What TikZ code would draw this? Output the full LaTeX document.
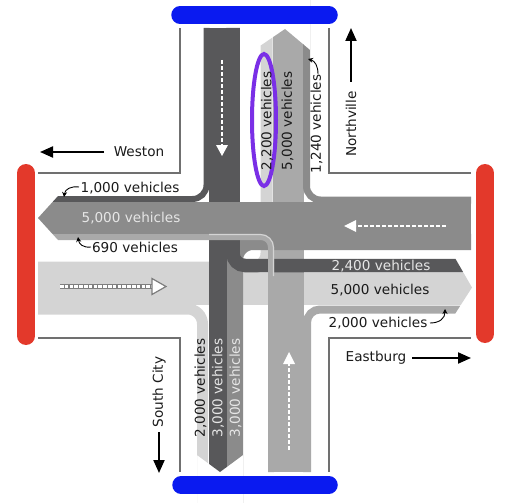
\documentclass[tikz,border=0pt]{standalone}
\usepackage{fontspec}
\setmainfont{DejaVu Sans}
\usetikzlibrary{arrows.meta}
\definecolor{cD}{HTML}{58585A}
\definecolor{cM}{HTML}{8B8B8B}
\definecolor{cML}{HTML}{A9A9A9}
\definecolor{cL}{HTML}{D4D4D4}
\definecolor{edgegray}{HTML}{707070}
\definecolor{redbar}{HTML}{E3392B}
\definecolor{bluebar}{HTML}{0A1AF0}
\definecolor{purp}{HTML}{7A2FE6}
\definecolor{lighttxt}{HTML}{E6E6E6}
\definecolor{txt}{HTML}{1A1A1A}
\begin{document}
\begin{tikzpicture}[x=1pt,y=-1pt,
  strip/.style={line cap=butt},
  lbl/.style={font=\fontsize{13.6}{14}\selectfont, inner sep=0pt, text=txt},
  lbllight/.style={lbl, text=lighttxt},
  roadedge/.style={draw=edgegray, line width=1.4},
  bigarrow/.style={line width=2, -{Triangle[length=13pt,width=11pt]}},
  smallarrow/.style={line width=0.9, -{Stealth[length=5pt,width=5pt]}},
  dashwhite/.style={white, line width=2.3, dash pattern=on 4pt off 2pt},
  bar/.style={line width=17.5, line cap=round}]
\useasboundingbox (0,0) rectangle (512,503);

% road edges
\draw[roadedge] (38,173) -- (180,173) -- (180,28);
\draw[roadedge] (329,28) -- (329,173) -- (471,173);
\draw[roadedge] (38,338) -- (180,338) -- (180,472);
\draw[roadedge] (329,472) -- (329,338) -- (471,338);

\begin{scope}
\clip (0,0) -- (260,0) -- (260,46) -- (285,29) -- (310,50) -- (310,0) -- (512,0)
  -- (512,255) -- (455,255) -- (455,258) -- (472,287.5) -- (455,314) -- (455,318) -- (512,318)
  -- (512,503) -- (243,503) -- (243,455) -- (220,472) -- (197,455) -- (197,503) -- (0,503)
  -- (0,245) -- (58,245) -- (58,240) -- (38,218) -- (58,196) -- (58,190) -- (0,190) -- cycle;
% eastbound (from Weston)
\draw[strip, cL, line width=32] (38,289) -- (520,289);
\draw[strip, cL, line width=11, rounded corners=15] (38,309) -- (202.5,309) -- (202.5,520);
\draw[strip, cL, line width=12, rounded corners=14] (38,267.5) -- (266.5,267.5) -- (266.5,0);
% northbound (from South City)
\draw[strip, cML, line width=31] (288,472) -- (288,0);
\draw[strip, cML, line width=8, rounded corners=13] (307,472) -- (307,309.5) -- (520,309.5);
% westbound turns (from Eastburg)
\draw[strip, cM, line width=16, rounded corners=18] (471,242) -- (235,242) -- (235,520);
\draw[strip, cM, line width=7, rounded corners=14] (471,200) -- (306.5,200) -- (306.5,0);
% southbound (from Northville)
\draw[strip, cD, line width=18] (218,28) -- (218,520);
\draw[strip, cD, line width=6, rounded corners=14] (206.5,28) -- (206.5,199) -- (20,199);
\draw[strip, cD, line width=13.5, rounded corners=12] (233,28) -- (233,265.5) -- (520,265.5);
% northbound left turn
\draw[strip, cML, line width=6, rounded corners=10] (271,472) -- (271,237) -- (20,237);
% westbound through
\draw[strip, cM, line width=32] (471,218) -- (20,218);
\draw[cL, line width=1.1, rounded corners=13] (209,234.5) -- (273.5,234.5) -- (273.5,276);
\end{scope}

% dashed direction arrows
\draw[dashwhite] (222,60) -- (222,146);
\fill[white] (216,145) -- (228,145) -- (222,156) -- cycle;
\draw[dashwhite] (446,226) -- (356,226);
\fill[white] (356,220) -- (356,232) -- (344,226) -- cycle;
\draw[dashwhite] (289,450) -- (289,364);
\fill[white] (283,364) -- (295,364) -- (289,352) -- cycle;
\draw[edgegray!90, line width=4.4] (60,286.5) -- (153,286.5);
\draw[white, line width=2.4, dash pattern=on 3.5pt off 1.3pt] (60,286.5) -- (153,286.5);
\filldraw[fill=white, draw=edgegray!90, line width=1.2] (152,278.5) -- (166,286.5) -- (152,294.5) -- cycle;

% bars
\draw[bar, bluebar] (180,15) -- (329,15);
\draw[bar, bluebar] (181,485) -- (329,485);
\draw[bar, redbar, line width=18] (26,173) -- (26,336);
\draw[bar, redbar, line width=18] (485,173) -- (485,334);

% highlight ellipse
\draw[purp, line width=4] (264,120) ellipse [x radius=12, y radius=66];

% labels
\node[lbl] (t1000) at (130,188) {1,000 vehicles};
\node[lbllight] (tw5000) at (131,218) {5,000 vehicles};
\node[lbl] (t690) at (135,247) {690 vehicles};
\node[lbl] (tweston) at (139,152) {Weston};
\node[lbllight] (t2400) at (381,266) {2,400 vehicles};
\node[lbl] (te5000) at (380,290) {5,000 vehicles};
\node[lbl] (te2000) at (378,323) {2,000 vehicles};
\node[lbl] (teast) at (376,358) {Eastburg};
\node[lbl, rotate=90] (t2200) at (267,121) {2,200 vehicles};
\node[lbl, rotate=90] (tn5000) at (287.5,121) {5,000 vehicles};
\node[lbl, rotate=90] (t1240) at (316.5,124) {1,240 vehicles};
\node[lbl, rotate=90] (tnorth) at (351,124) {Northville};
\node[lbl, rotate=90] (tsouth) at (159,392) {South City};
\node[lbl, rotate=90] (ts2000) at (200.5,388) {2,000 vehicles};
\node[lbllight, rotate=90] (ts3000a) at (218,388) {3,000 vehicles};
\node[lbllight, rotate=90] (ts3000b) at (235.5,388) {3,000 vehicles};

% town arrows
\coordinate (wa1) at (104,152); \coordinate (wa2) at (40,152);
\coordinate (ea1) at (412,358); \coordinate (ea2) at (471,358);
\coordinate (na1) at (351,82); \coordinate (na2) at (351,28);
\coordinate (sa1) at (159,432); \coordinate (sa2) at (159,473);
\draw[bigarrow] (wa1) -- (wa2);
\draw[bigarrow] (ea1) -- (ea2);
\draw[bigarrow] (na1) -- (na2);
\draw[bigarrow] (sa1) -- (sa2);

% small curved pointers
\coordinate (p1a) at (79,187); \coordinate (p1b) at (64,197);
\draw[smallarrow] (p1a) .. controls (71,186) and (65,189) .. (p1b);
\coordinate (p2a) at (91,247); \coordinate (p2b) at (78,237);
\draw[smallarrow] (p2a) .. controls (83,248) and (79,244) .. (p2b);
\coordinate (p3a) at (430,323); \coordinate (p3b) at (445,309);
\draw[smallarrow] (p3a) .. controls (440,323) and (445,318) .. (p3b);
\coordinate (p4a) at (318,74); \coordinate (p4b) at (308,59);
\draw[smallarrow] (p4a) .. controls (318,66) and (315,61) .. (p4b);
\end{tikzpicture}
\end{document}
